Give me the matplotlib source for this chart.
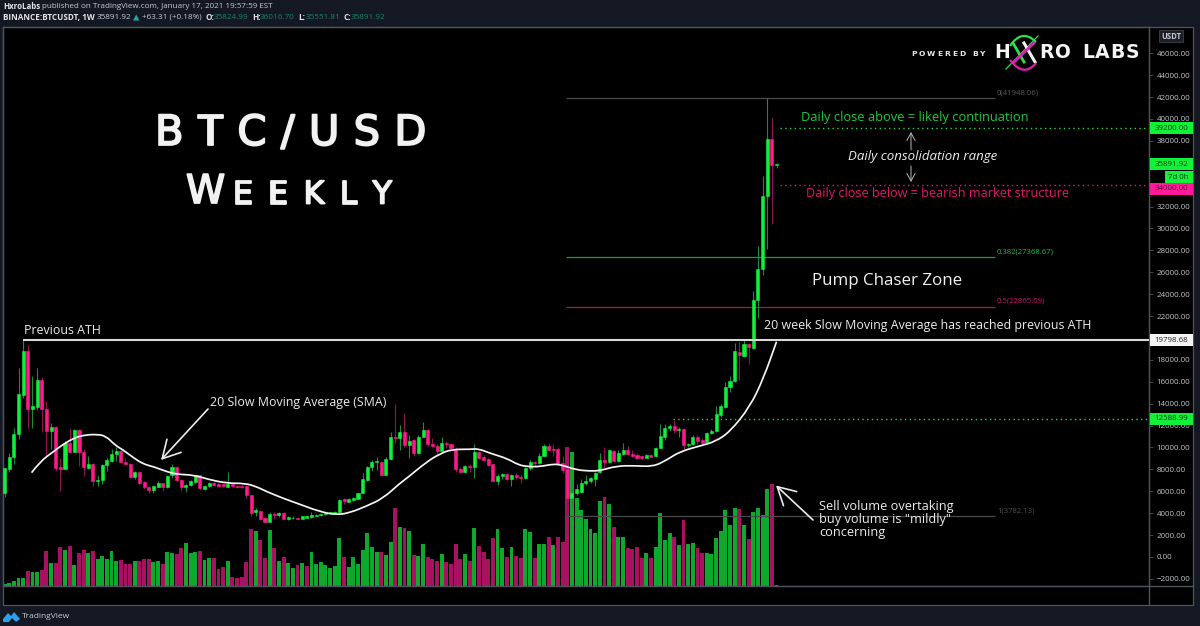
"""
BTC/USD weekly TradingView chart with volume, 20 week SMA and fib levels.
"""

import matplotlib
matplotlib.use("Agg")
import matplotlib.pyplot as plt
import matplotlib.patheffects as pe
from matplotlib.lines import Line2D
from matplotlib.patches import FancyArrowPatch, PathPatch, Polygon, Rectangle
from matplotlib.path import Path
from matplotlib.transforms import IdentityTransform

W, H = 1200, 626

plt.rcParams['font.family'] = ['Open Sans', 'DejaVu Sans']

# weekly candles, one value per bar
opens = [
    5800, 8050, 9150, 11200, 14800, 18800, 13500, 13700, 16200, 13500,
    11500, 11900, 8200, 8050, 10400, 9600, 11600, 9600, 8100, 8450,
    6900, 7050, 8400, 8800, 9400, 9700, 8700, 8500, 7300, 7800,
    6850, 6400, 6150, 6400, 6750, 6350, 7500, 8200, 7050, 6350,
    6600, 6850, 7450, 6250, 6500, 6800, 6700, 6650, 6400, 6630,
    6500, 6500, 6500, 5650, 4100, 4170, 3580, 3220, 3950, 3800,
    4050, 3500, 3550, 3600, 3500, 3600, 3650, 3750, 3800, 3900,
    4000, 4050, 4100, 5250, 5050, 5200, 5300, 5800, 7000, 8200,
    8700, 8700, 7500, 8950, 11000, 10900, 11400, 10200, 10650, 9500,
    11000, 11600, 10350, 10150, 9680, 10450, 10350, 9900, 8050, 7800,
    8300, 8200, 9600, 9100, 8950, 8450, 6900, 7350, 7550, 7150,
    7450, 7300, 7200, 8150, 8700, 8550, 9250, 10150, 9900, 9900,
    8550, 8000, 5400, 5800, 5900, 6800, 6900, 7150, 7730, 8900,
    8700, 9700, 8730, 9430, 9750, 9400, 9300, 9250, 9050, 9350,
    9200, 9950, 11000, 11800, 11950, 11600, 11700, 10200, 10300, 10950,
    10700, 10500, 11300, 11500, 13000, 13700, 15500, 16050, 18700, 18350,
    19450, 19100, 23470, 26270, 32970, 38140, 35825,
]
closes = [
    8100, 9150, 11200, 14900, 18800, 13500, 13800, 16150, 13500, 11500,
    11900, 8100, 8000, 10400, 9600, 11600, 9600, 8200, 8450, 6900,
    7050, 8400, 8830, 9450, 9700, 8700, 8500, 7300, 7800, 6750,
    6400, 6100, 6450, 6800, 6350, 7400, 8250, 7000, 6350, 6600,
    6900, 7450, 6300, 6500, 6800, 6550, 6450, 6500, 6700, 6500,
    6400, 6400, 5650, 4050, 4300, 3500, 3220, 3950, 3800, 4000,
    3500, 3650, 3600, 3500, 3700, 3700, 3800, 3800, 3950, 4050,
    4100, 4100, 5200, 5100, 5300, 5400, 5800, 7100, 8200, 8700,
    8750, 7500, 8950, 11000, 10900, 11450, 10250, 10600, 9540, 11000,
    11600, 10300, 10150, 9680, 10450, 10300, 9950, 8050, 7800, 8300,
    8200, 9600, 9050, 8900, 8400, 6900, 7400, 7550, 7150, 7500,
    7300, 7250, 8150, 8700, 8550, 9250, 10150, 9800, 9800, 8530,
    7950, 5400, 5800, 6200, 6800, 6950, 7200, 7700, 8900, 8700,
    9750, 8750, 9470, 9780, 9400, 9250, 9050, 9050, 9350, 9150,
    9990, 11050, 11800, 11950, 11600, 11700, 10200, 10350, 11000, 10600,
    10450, 11300, 11500, 13050, 13750, 15480, 16050, 18780, 18430, 19450,
    19200, 23470, 26270, 32970, 38140, 35825, 35892,
]
highs = [
    8100, 9500, 11800, 17300, 19798, 19350, 16500, 17300, 16400, 14200,
    12200, 12000, 9000, 10600, 11750, 11700, 11700, 9900, 9250, 8550,
    7500, 8450, 9050, 9850, 10000, 9750, 9000, 8550, 7850, 7850,
    6950, 6500, 6500, 6900, 6800, 7500, 8450, 8300, 7100, 6700,
    7000, 7500, 7500, 6600, 6850, 6850, 6750, 6700, 7750, 6680,
    6550, 6600, 6550, 5700, 4450, 4250, 3650, 4100, 4150, 4100,
    4100, 3750, 3700, 3650, 3750, 3800, 4100, 3950, 4000, 4100,
    4150, 4200, 5300, 5350, 5400, 5500, 5850, 7650, 8350, 8900,
    9160, 8750, 9100, 11450, 14000, 12050, 13180, 11100, 10750, 11100,
    12300, 11650, 10900, 10300, 11000, 10550, 10450, 10050, 8200, 8400,
    8450, 10350, 9700, 9350, 9000, 8500, 7600, 7650, 7650, 7550,
    7650, 7500, 8200, 8900, 8800, 9500, 10350, 10450, 10300, 10000,
    9200, 8150, 7000, 6650, 7150, 7450, 7300, 7800, 9500, 10050,
    9900, 9800, 9800, 10400, 10100, 9750, 9500, 9350, 9450, 9450,
    10050, 12100, 12100, 12150, 12500, 11900, 11800, 10450, 11150, 11100,
    10900, 11450, 11700, 13800, 14000, 16000, 16500, 19500, 19650, 19900,
    19500, 24320, 28400, 34800, 41948, 40120, 36016,
]
lows = [
    5500, 7800, 8500, 10800, 14500, 11800, 11800, 13400, 11400, 9150,
    9900, 7850, 6000, 8000, 9500, 9600, 8350, 7350, 8050, 6500,
    6500, 6650, 7850, 8700, 8800, 8650, 8400, 7200, 7150, 6700,
    6250, 5800, 5800, 6350, 6050, 6300, 7200, 6950, 6000, 5950,
    6500, 6800, 6200, 6150, 6400, 6500, 6350, 6400, 6350, 6400,
    6300, 6300, 5400, 3700, 3700, 3400, 3150, 3200, 3500, 3650,
    3450, 3400, 3450, 3450, 3450, 3550, 3600, 3700, 3750, 3850,
    3950, 4000, 4050, 4800, 5000, 5100, 5250, 5750, 6900, 7850,
    7950, 7450, 7500, 8900, 10400, 9750, 10070, 9050, 9200, 9450,
    10950, 10150, 10000, 9400, 9650, 9950, 9900, 7800, 7700, 7700,
    7800, 7250, 8950, 8800, 8350, 6850, 6550, 7100, 7050, 6500,
    7050, 6800, 7150, 7950, 8300, 8500, 9200, 9700, 9250, 8450,
    7650, 3800, 4600, 5700, 5850, 6550, 6750, 6500, 7700, 8150,
    8550, 8650, 8650, 9350, 9300, 9150, 8950, 8950, 9000, 9100,
    9100, 9950, 10700, 11500, 11300, 11000, 9900, 10000, 10200, 10300,
    10300, 10450, 11200, 11450, 12750, 13650, 15100, 16000, 16200, 18300,
    17600, 19000, 21800, 25730, 28130, 30400, 35551,
]

# volume bar heights and side ("g" buy, "r" sell)
volumes = [
    2.5, 3.5, 5, 8.5, 8, 15, 14, 14, 16, 35,
    23, 23, 39, 36, 40, 21, 33, 36, 33, 35,
    27, 30, 27, 35, 25, 26, 22, 22, 25, 25,
    27, 27, 24, 25, 22, 34, 33, 32, 38, 43,
    33, 34, 35, 26, 28, 28, 17, 19, 25, 9,
    8, 9, 24, 57, 55, 46, 28, 56, 38, 25,
    29, 23, 18, 21, 23, 20, 34, 22, 24, 21,
    18, 20, 48, 29, 19, 29, 22, 36, 53, 39,
    34, 34, 31, 44, 78, 59, 58, 55, 31, 30,
    42, 29, 27, 25, 32, 24, 22, 42, 27, 32,
    25, 58, 40, 34, 27, 48, 57, 38, 29, 39,
    30, 28, 57, 54, 28, 42, 42, 49, 41, 49,
    44, 139, 134, 88, 76, 67, 57, 53, 85, 89,
    82, 59, 49, 49, 38, 37, 39, 28, 33, 28,
    39, 73, 46, 53, 49, 41, 66, 42, 43, 38,
    33, 33, 32, 48, 55, 76, 61, 78, 77, 61,
    47, 74, 78, 71, 97, 102, 1,
]
volume_sides = (
    "gggggrggrr"
    "grrgrgrrgr"
    "gggggrrrgr"
    "rrggrggrrg"
    "ggrggrrrgr"
    "rrrrgrrgrg"
    "rggrgrgggg"
    "gggrgggggg"
    "grggrgrgrg"
    "grrrgrrrrg"
    "rgrrrrggrg"
    "rrggrggrgr"
    "rrgggggggr"
    "grggrrrrgr"
    "ggggrgrggr"
    "rgggggggrg"
    "rggggrg"
)

# 20 week SMA (bar index, price)
sma_weeks = [
    5.8, 7.6, 10.5, 12.6, 15.1, 17.3, 19.8, 21.8, 23.7, 25.5,
    27.7, 29.8, 32, 34.9, 37, 40.6, 43.8, 47.8, 51.7, 54.2,
    56.4, 59.9, 63.5, 67.8, 71.4, 74.3, 77.9, 81.4, 85, 86.5,
    90.8, 93.6, 96.1, 100.1, 101.9, 104.4, 108, 110.5, 112.6, 115.1,
    118, 119.8, 123, 125.9, 128, 131.6, 135.2, 139.5, 142.4, 145.2,
    149.5, 152.8, 156, 160.3, 163.2, 166,
]
sma_values = [
    7700, 8706, 9620, 10290, 10900, 11140, 11200, 11050, 10230, 9770,
    9070, 8490, 8250, 7790, 7550, 7490, 7090, 6730, 6730, 6420,
    5960, 5360, 4810, 4140, 3840, 4050, 4660, 5360, 6730, 7190,
    8700, 9410, 9830, 9830, 9890, 9470, 9010, 8400, 8250, 8250,
    8490, 8400, 7950, 7850, 7880, 8310, 8340, 8250, 8860, 9620,
    10140, 10530, 11440, 13730, 16320, 19660,
]

# price axis and time axis, ticks hidden behind a price tag are left out
price_ticks = [v for v in range(-2000, 48000, 2000) if v not in (20000, 34000, 36000)]
time_tick_weeks = [7, 20, 33, 46, 59, 72, 85, 99, 112, 125, 138, 151, 164,
                   177, 190, 203, 216, 229, 242]
time_tick_labels = ['2018', 'Apr', 'Jul', 'Oct', '2019', 'Apr', 'Jul', 'Oct', '2020',
                    'Apr', 'Jul', 'Oct', '2021', 'Apr', 'Jul', 'Oct', '2022', 'Apr', 'Jul']

# horizontal levels
ath_level = 19798.68
fib_levels = [41948.06, 27368.67, 22865.09, 3782.13]
fib_labels = ['0(41948.06)', '0.382(27368.67)', '0.5(22865.09)', '1(3782.13)']
upper_level = 39200
lower_level = 34000
breakout_level = 12588.99

GREEN = '#12f03a'
PINK = '#ff1a8c'
GREEN_WICK = '#1d8a3c'
PINK_WICK = '#8f1552'
VOL_GREEN = '#0da82c'
VOL_RED = '#a81060'
FIB_COLORS = ['#4a4a4a', '#1c9c34', '#a8165e', '#4a4a4a']
FIB_TEXT = ['#5c5c5c', '#25c046', '#c0186c', '#4e4e4e']
TEXT = '#ececec'
AXIS_TEXT = '#c4c6cc'
FRAME = '#50535e'


fig = plt.figure(figsize=(W / 100, H / 100), dpi=100, facecolor='#141823')
renderer = fig.canvas.get_renderer()


def text_px(x, y, s, size, color=TEXT, **kw):
    kw.setdefault('va', 'center')
    return fig.text(x / W, 1 - y / H, s, fontsize=size, color=color, **kw)


def spaced_text(x, y, s, size, gap, color=TEXT, **kw):
    """Letters placed one by one, the font has no letter spacing option."""
    for ch in s:
        if ch == ' ':
            x += size * 0.8
            continue
        t = text_px(x, y, ch, size, color, **kw)
        x += t.get_window_extent(renderer).width + gap
    return x


def line_px(x0, y0, x1, y1, color=FRAME, lw=1.0, **kw):
    fig.add_artist(Line2D([x0 / W, x1 / W], [1 - y0 / H, 1 - y1 / H], color=color,
                          lw=lw, transform=fig.transFigure, **kw))


def arrow_px(x0, y0, x1, y1, color=TEXT, lw=1.2, head=0.9, scale=10):
    fig.add_artist(FancyArrowPatch((x0, H - y0), (x1, H - y1),
                                   arrowstyle=f'->,head_length={head},head_width={head * 0.55}',
                                   mutation_scale=scale, color=color, lw=lw, shrinkA=0, shrinkB=0,
                                   transform=IdentityTransform(), zorder=6))


def curve_px(p0, ctrl, p1, color, lw=1.6):
    verts = [(p0[0], H - p0[1]), (ctrl[0], H - ctrl[1]), (p1[0], H - p1[1])]
    fig.add_artist(PathPatch(Path(verts, [Path.MOVETO, Path.CURVE3, Path.CURVE3]), fc='none',
                             ec=color, lw=lw, transform=IdentityTransform(), zorder=6))


def price_tag(y, s, bg, fg='#0a3a14', x0=1149.5, x1=1192.5, height=12):
    fig.add_artist(Rectangle((x0 / W, 1 - (y + height / 2) / H), (x1 - x0) / W, height / H, fc=bg,
                             ec='none', transform=fig.transFigure, zorder=8))
    return text_px((x0 + x1) / 2, y, s, 5.7, fg, ha='center', zorder=9)


def smooth_path(xs, ys):
    """Quadratic spline through the midpoints, the read points act as controls."""
    verts = [(xs[0], ys[0])]
    codes = [Path.MOVETO]
    for i in range(1, len(xs) - 1):
        verts += [(xs[i], ys[i]), ((xs[i] + xs[i + 1]) / 2, (ys[i] + ys[i + 1]) / 2)]
        codes += [Path.CURVE3, Path.CURVE3]
    verts.append((xs[-1], ys[-1]))
    codes.append(Path.LINETO)
    return Path(verts, codes)


# black chart area
fig.add_artist(Rectangle((3 / W, 1 - 605 / H), 1190 / W, 578 / H, fc='black', ec=FRAME, lw=0.9,
                         transform=fig.transFigure, zorder=-1))

ax_vol = fig.add_axes([3 / W, 1 - 586 / H, 1146 / W, 559 / H])
ax = ax_vol.twinx()
ax.set_zorder(2)
ax.patch.set_visible(False)
ax_vol.set_facecolor('black')

# volume pane, 1 unit is one pixel of bar height
bars = range(len(opens))
vol_colors = [VOL_GREEN if s == 'g' else VOL_RED for s in volume_sides]
ax_vol.bar(bars, volumes, width=0.84, color=vol_colors, linewidth=0)
ax_vol.set_ylim(0, 559)
ax_vol.set_yticks([])

# candles
up = [c >= o for o, c in zip(opens, closes)]
ax.vlines(bars, lows, highs, colors=[GREEN_WICK if u else PINK_WICK for u in up], lw=0.8, zorder=2)
ax.bar(bars, [c - o for o, c in zip(opens, closes)], bottom=opens, width=0.66,
       color=[GREEN if u else PINK for u in up], edgecolor=[GREEN if u else PINK for u in up],
       linewidth=0.4, zorder=3)

ax.add_patch(PathPatch(smooth_path(sma_weeks, sma_values), fc='none', ec='#f4f4f4', lw=1.25, zorder=4))

ax.hlines(ath_level, 4, 246.1, color='#d8d8d8', lw=1.5, zorder=5)
for level, color in zip(fib_levels, FIB_COLORS):
    ax.hlines(level, 120.7, 213, color=color, lw=0.9, zorder=1)
ax.hlines(upper_level, 166.8, 246.1, color='#23d948', lw=1.0, linestyles=(0, (1, 2.4)), zorder=1)
ax.hlines(lower_level, 166.8, 246.1, color='#e0207c', lw=1.0, linestyles=(0, (1, 2.4)), zorder=1)
ax.hlines(breakout_level, 143.7, 246.1, color='#23d948', lw=1.0, linestyles=(0, (1, 2.4)), zorder=1)

ax.set_xlim(-0.34, 246.1)
ax_vol.set_xlim(-0.34, 246.1)
ax.set_ylim(-2650, 48400)

ax.set_yticks(price_ticks)
ax.set_yticklabels([f'{v:.2f}'.replace('-', '\u2212') for v in price_ticks], fontsize=5.7, color=AXIS_TEXT)
ax.tick_params(axis='y', length=3, width=0.6, color=FRAME, pad=2.4)
ax_vol.set_xticks(time_tick_weeks)
ax_vol.set_xticklabels(time_tick_labels, fontsize=5.7, color=AXIS_TEXT)
for lab in ax_vol.get_xticklabels():
    if lab.get_text().isdigit():
        lab.set_fontweight('bold')
ax_vol.tick_params(axis='x', length=2.2, width=0.6, color=FRAME, pad=3.2)
ax.set_xticks([])
for a in (ax, ax_vol):
    for sp in a.spines.values():
        sp.set_color(FRAME)
        sp.set_linewidth(0.9)

line_px(1149, 586, 1149, 605)
line_px(1149, 586, 1193, 586)

# tags on the price axis
price_tag(128, '39200.00', GREEN)
price_tag(164, '35891.92', GREEN)
price_tag(177, '7d 0h', GREEN, x0=1165)
price_tag(189, '34000.00', '#ff1a9a', fg='#5a0838')
price_tag(340.5, '19798.68', '#f2f2f2', fg='#222222')
price_tag(419, '12588.99', GREEN)

# USDT box
fig.add_artist(Rectangle((1159 / W, 1 - 42 / H), 24 / W, 12 / H, fc='#1c1f28', ec='#3c3f4a', lw=0.6,
                         transform=fig.transFigure, zorder=8))
text_px(1171, 36.2, 'USDT', 5.6, AXIS_TEXT, ha='center', fontweight='bold', zorder=9)

# header
text_px(3, 6.5, 'HxroLabs', 5.7, '#e4e4e8', fontweight='bold')
text_px(41.5, 6.5, 'published on TradingView.com, January 17, 2021 19:57:59 EST', 5.75, '#c8cad0')
text_px(3, 17.5, 'BINANCE:BTCUSDT, 1W', 5.9, '#e4e4e8', fontweight='bold')
text_px(97, 17.5, '35891.92', 5.9, '#c8cad0')
fig.add_artist(Polygon([(133 / W, 1 - 20.5 / H), (139.5 / W, 1 - 20.5 / H), (136.2 / W, 1 - 14.5 / H)],
                       fc='#26a69a', ec='none', transform=fig.transFigure))
text_px(142, 17.5, '+63.31 (+0.18%)', 5.9, '#c8cad0')
for x, key, val in zip((206, 252, 298, 343), 'OHLC', ('35824.99', '36016.70', '35551.81', '35891.92')):
    text_px(x, 17.5, key + ':', 5.9, '#e4e4e8', fontweight='bold')
    text_px(x + 8, 17.5, val, 5.9, '#1b7f70')

# title, a thin stroke thickens the letters
thick = [pe.withStroke(linewidth=1.3, foreground='#f2f2f2')]
spaced_text(155, 133, 'BTC/USD', 30, 14.2, '#f2f2f2', family='DejaVu Sans', path_effects=thick)
x_end = spaced_text(186, 192, 'W', 28.5, 8, '#f2f2f2', family='DejaVu Sans', path_effects=thick)
spaced_text(x_end, 195, 'EEKLY', 22.5, 15.5, '#f2f2f2', family='DejaVu Sans', path_effects=thick)

# annotations
text_px(24, 331, 'Previous ATH', 8.9, TEXT)
text_px(210, 402.5, '20 Slow Moving Average (SMA)', 8.9, TEXT)
arrow_px(208, 409, 161, 460, lw=1.2, scale=14)
text_px(764, 325, '20 week Slow Moving Average has reached previous ATH', 8.95, TEXT)
text_px(812, 281, 'Pump Chaser Zone', 12.2, '#f2f2f2')
text_px(801, 118, 'Daily close above = likely continuation', 9.3, '#1fc73f')
text_px(806, 194, 'Daily close below = bearish market structure', 9.1, '#e0186f')
text_px(848, 156.5, 'Daily consolidation range', 9.55, TEXT, style='italic')
arrow_px(911, 150, 911, 132, color='#b8b8b8', lw=0.7, scale=6)
arrow_px(911, 166, 911, 182, color='#b8b8b8', lw=0.7, scale=6)
text_px(819, 506.5, 'Sell volume overtaking', 9.2, TEXT)
text_px(819, 519.5, 'buy volume is "mildly"', 9.2, TEXT)
text_px(819, 532.5, 'concerning', 9.2, TEXT)
arrow_px(813, 520, 776, 485.5, lw=1.2, scale=14)

for (y, label, color) in zip((93, 252, 301, 511), fib_labels, FIB_TEXT):
    text_px(997, y, label, 5.6, color)

# logo
spaced_text(911, 53.5, 'POWERED BY', 5.4, 2.0, '#e8e8e8', fontweight='bold', family='DejaVu Sans')
spaced_text(994, 52.5, 'H', 13.5, 0, '#f4f4f4', fontweight='bold', family='DejaVu Sans')
spaced_text(1039, 52.5, 'RO LABS', 13.5, 1.0, '#f4f4f4', fontweight='bold', family='DejaVu Sans')
curve_px((1010, 46), (1022, 28), (1036, 42), '#2be04a')
curve_px((1010, 60), (1024, 78), (1036, 63), '#e020b0')
line_px(1006, 69, 1038, 36, color='#2be04a', lw=0.9)
line_px(1013, 43, 1024, 62, color='#2be04a', lw=2.0)
line_px(1024, 43, 1035, 62, color='#f0f0f0', lw=2.2)
line_px(1034, 43, 1014, 62, color='#e020b0', lw=2.0)

# TradingView footer
cloud = [(3, 619), (8, 613), (11, 616), (14, 612), (20, 619), (16, 622), (12, 618), (9, 622), (3, 622)]
fig.add_artist(Polygon([(x / W, 1 - y / H) for x, y in cloud], fc='#2aa1f0', ec='none',
                       transform=fig.transFigure))
text_px(22, 617, 'TradingView', 6.0, '#c8cad0')

fig.savefig('out.png', dpi=100, facecolor=fig.get_facecolor())
